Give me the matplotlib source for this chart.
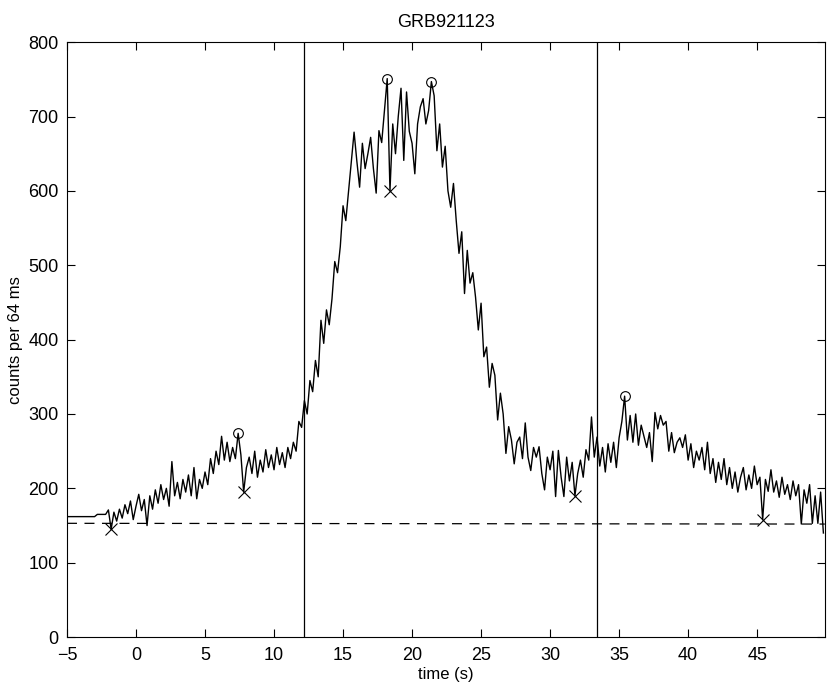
import numpy as np
import matplotlib
matplotlib.use("Agg")
import matplotlib.pyplot as plt

plt.rcParams['font.family'] = ['Liberation Sans', 'DejaVu Sans']

# light curve (0.2 s resolution)
t0 = -5.0
dt = 0.2
counts = [
    162, 162, 162, 162, 162, 162, 162, 162, 162, 162,   # -5.0 .. -3.2
    162, 165, 165, 165, 165,                            # -3.0 .. -2.2
    171, 145, 168, 156, 172,   # -2
    160, 178, 166, 183, 158,   # -1
    176, 192, 170, 185, 150,   # 0
    190, 172, 198, 180, 205,   # 1
    185, 200, 176, 236, 190,   # 2
    208, 186, 212, 195, 218,   # 3
    190, 228, 186, 212, 200,   # 4
    222, 205, 240, 220, 250,   # 5
    232, 270, 238, 262, 236,   # 6
    255, 240, 274, 245, 195,   # 7
    228, 242, 220, 250, 215,   # 8
    238, 222, 252, 228, 245,   # 9
    225, 255, 232, 248, 228,   # 10
    255, 240, 262, 250, 290,   # 11
    282, 318, 300, 345, 330,   # 12
    372, 350, 426, 395, 440,   # 13
    420, 455, 505, 490, 525,   # 14
    580, 560, 600, 640, 679,   # 15
    640, 605, 664, 630, 650,   # 16
    672, 630, 597, 681, 665,   # 17
    708, 751, 600, 690, 650,   # 18
    700, 738, 641, 733, 680,   # 19
    664, 623, 690, 713, 724,   # 20
    690, 708, 747, 728, 654,   # 21
    690, 632, 660, 600, 578,   # 22
    610, 560, 516, 545, 462,   # 23
    520, 476, 490, 457, 413,   # 24
    449, 377, 390, 336, 368,   # 25
    352, 292, 328, 300, 247,   # 26
    283, 265, 233, 262, 269,   # 27
    240, 288, 242, 224, 255,   # 28
    242, 256, 220, 198, 242,   # 29
    225, 250, 189, 251, 215,   # 30
    189, 242, 210, 235, 190,   # 31
    220, 238, 215, 252, 238,   # 32
    296, 242, 269, 230, 255,   # 33
    222, 260, 235, 262, 228,   # 34
    268, 290, 324, 265, 298,   # 35
    262, 300, 258, 285, 270,   # 36
    255, 275, 236, 302, 280,   # 37
    298, 285, 290, 250, 275,   # 38
    248, 262, 268, 255, 272,   # 39
    238, 260, 228, 250, 238,   # 40
    255, 225, 262, 220, 240,   # 41
    208, 235, 212, 240, 205,   # 42
    228, 200, 222, 195, 215,   # 43
    228, 198, 218, 200, 230,   # 44
    205, 215, 158, 212, 196,   # 45
    225, 195, 210, 188, 215,   # 46
    192, 205, 185, 210, 190,   # 47
    205, 152, 198, 180, 205,   # 48
    153, 190, 153, 195, 140,   # 49
]

# peaks (circles) and valleys (crosses)
peak_t = [7.4, 18.2, 21.4, 35.4]
peak_c = [274, 751, 747, 324]
valley_t = [-1.8, 7.8, 18.4, 31.8, 45.4]
valley_c = [145, 195, 600, 190, 158]

# background level and interval boundaries
bg_t = [-5.0, 49.9]
bg_c = [153, 152]
bounds = [12.15, 33.4]

t = t0 + dt * np.arange(len(counts))

fig = plt.figure(figsize=(8.30, 6.91), dpi=100)
ax = fig.add_axes([0.0807, 0.078, 0.913, 0.861])

ax.plot(t, counts, color="black", lw=1.0)
ax.plot(bg_t, bg_c, color="black", lw=0.9, linestyle=(0, (8, 6)))
for b in bounds:
    ax.axvline(b, color="black", lw=0.9)
ax.plot(peak_t, peak_c, linestyle="none", marker="o", ms=7, mfc="none",
        mec="black", mew=0.8)
ax.plot(valley_t, valley_c, linestyle="none", marker="x", ms=8,
        mec="black", mew=0.8)

ax.set_xlim(-5, 49.9)
ax.set_ylim(0, 800)
ax.set_xticks(np.arange(-5, 50, 5))
ax.set_yticks(np.arange(0, 801, 100))
ax.tick_params(direction="in", top=True, right=True, length=6, width=0.8,
               labelsize=13)
ax.tick_params(axis="x", pad=7)
ax.tick_params(axis="y", pad=6)
for s in ax.spines.values():
    s.set_linewidth(0.8)

ax.set_title("GRB921123", fontsize=13, pad=11)
ax.set_xlabel("time (s)", fontsize=12, labelpad=2)
ax.set_ylabel("counts per 64 ms", fontsize=12, labelpad=4)

fig.savefig("out.png", dpi=100)
